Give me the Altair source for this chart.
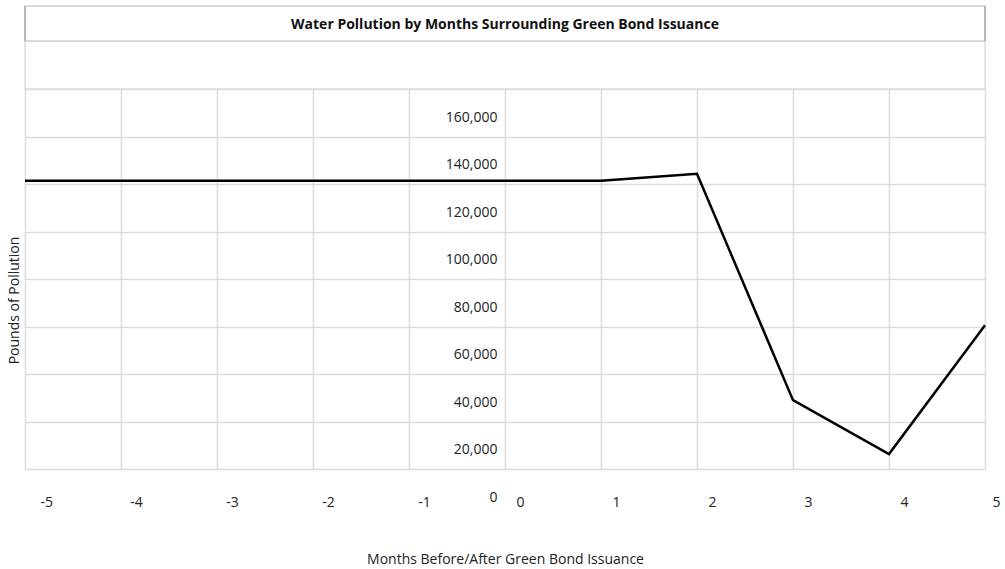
import altair as alt
import pandas as pd

# Months relative to green bond issuance and pounds of water pollution
months = [-5, -4, -3, -2, -1, 0, 1, 2, 3, 4, 5]
pollution = [121400, 121400, 121400, 121400, 121400, 121400, 121400, 124300, 29000, 6300, 60500]
month_ticks = [-5, -4, -3, -2, -1, 0, 1, 2, 3, 4, 5]
pound_ticks = [0, 20000, 40000, 60000, 80000, 100000, 120000, 140000, 160000]

title_text = "Water Pollution by Months Surrounding Green Bond Issuance"
FONT = "Open Sans"
W, H = 960, 380

df = pd.DataFrame({"month": months, "pounds": pollution})

x_enc = alt.X(
    "month:Q",
    scale=alt.Scale(domain=[-5, 5], nice=False),
    axis=alt.Axis(
        values=month_ticks,
        labelExpr="toString(datum.value)",
        title="Months Before/After Green Bond Issuance",
        grid=True,
        ticks=False,
        domain=False,
        labelOffset=15,
        labelPadding=26,
        titlePadding=43,
    ),
)
y_enc = alt.Y(
    "pounds:Q",
    scale=alt.Scale(domain=[0, 160000], nice=False),
    axis=alt.Axis(
        values=pound_ticks,
        format=",d",
        title="Pounds of Pollution",
        grid=True,
        ticks=False,
        domain=False,
        offset=-480,
        labelPadding=8,
        labelOffset=28,
        labelBaseline="middle",
        titleX=-491,
        titleY=211,
        titleAlign="center",
        titleBaseline="middle",
    ),
)

line = alt.Chart(df).mark_line(color="black", strokeWidth=2.5).encode(x=x_enc, y=y_enc)

# Header bands stacked above the plotting area
band = alt.Chart(df.head(1)).mark_rect(fill="white", stroke="#dcdcdc", strokeWidth=1.5).encode(
    x=alt.value(0), x2=alt.value(W), y=alt.value(-48), y2=alt.value(0)
)
title_box = alt.Chart(df.head(1)).mark_rect(fill="white", stroke="#cfcfcf", strokeWidth=1.5).encode(
    x=alt.value(0), x2=alt.value(W), y=alt.value(-83), y2=alt.value(-48)
)
box_sides = alt.Chart(pd.DataFrame({"side": [0, W]})).mark_rule(color="#ababab", strokeWidth=1.5).encode(
    x=alt.X("side:Q", scale=None), y=alt.value(-83), y2=alt.value(-48)
)
title = alt.Chart(df.head(1)).mark_text(
    text=title_text, font=FONT, fontSize=14, fontWeight="bold", color="#111111", baseline="middle"
).encode(x=alt.value(W / 2), y=alt.value(-64))

chart = (
    alt.layer(band, title_box, box_sides, title, line)
    .properties(
        width=W,
        height=H,
        autosize=alt.AutoSizeParams(type="none"),
        padding={"left": 25, "top": 89, "right": 20, "bottom": 100},
        background="white",
    )
    .configure_view(stroke=None)
    .configure_axis(
        gridColor="#dcdcdc",
        gridWidth=1.5,
        labelFont=FONT,
        labelFontSize=14,
        labelColor="#222222",
        titleFont=FONT,
        titleFontSize=14,
        titleFontWeight="normal",
        titleColor="#222222",
    )
)

chart.save("out.html", embed_options={"renderer": "svg", "actions": False})
